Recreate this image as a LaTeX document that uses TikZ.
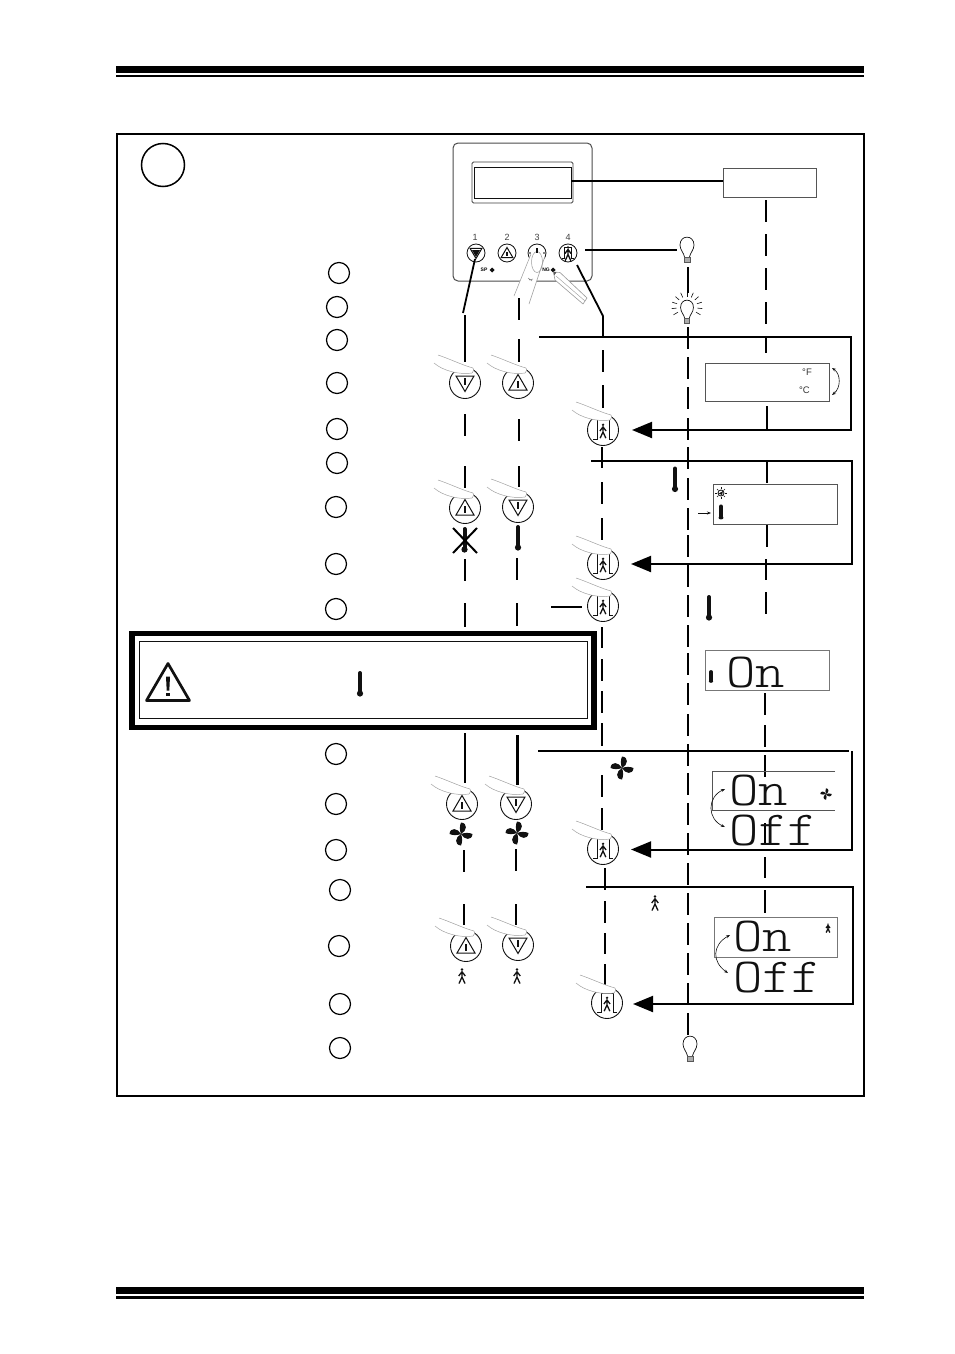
\documentclass[tikz,border=0pt]{standalone}
\usepackage{fontspec}
\usepackage{graphicx}
\setmainfont{Liberation Sans}
\usetikzlibrary{arrows.meta}
\definecolor{ink}{HTML}{111111}
\definecolor{fing}{HTML}{9A9A9A}
\definecolor{boxg}{HTML}{555555}
\tikzset{
  stepnum/.style={draw=black,circle,line width=1.2pt,minimum size=21pt,inner sep=0pt},
  bigstep/.style={draw=black,circle,line width=1.5pt,minimum size=43pt,inner sep=0pt},
  pressbtn/.style={draw=ink,circle,line width=.9pt,minimum size=31pt,inner sep=0pt,fill=white},
  panelbtn/.style={draw=ink,circle,line width=.8pt,minimum size=18pt,inner sep=0pt,fill=white},
  dbox/.style={draw=boxg,line width=.8pt,inner sep=0pt,rectangle},
  dashseg/.style={line width=2pt,black},
  conn/.style={line width=2pt,black},
  thin conn/.style={line width=1.8pt,black},
  tipconn/.style={line width=2pt,black,-{Triangle[length=20pt,width=16pt]}},
  curved/.style={line width=.6pt,ink,{Stealth[length=4pt,width=3pt]}-{Stealth[length=4pt,width=3pt]}},
  paneltxt/.style={font=\fontsize{9}{9}\selectfont,text=ink!80,inner sep=0pt},
  unit/.style={font=\fontsize{9.5}{10}\selectfont,text=ink!85,inner sep=0pt},
  bigt/.style={anchor=base west,inner sep=0pt,text=ink},
  pics/finger/.style={code={
    \fill[white] (-27,-28) .. controls (-15,-24) and (-3,-18) .. (8,-15) .. controls (9,-13) .. (7,-10) .. controls (-5,-8) and (-22,-12) .. (-31,-20) -- cycle;
    \draw[fing,line width=.45pt] (-27,-28) .. controls (-15,-24) and (-3,-18) .. (8,-15) .. controls (9,-13) .. (7,-10) .. controls (-5,-8) and (-22,-12) .. (-31,-20);
  }},
  pics/triup/.style={code={
    \draw[ink,line width=1pt,line join=miter] (0,-8.5)--(-9,7)--(9,7)--cycle;
    \fill[ink] (-.9,-2) rectangle (.9,5);
  }},
  pics/tridown/.style={code={
    \draw[ink,line width=1pt,line join=miter] (0,8.5)--(-9,-7)--(9,-7)--cycle;
    \fill[ink] (-.9,2) rectangle (.9,-5);
  }},
  pics/person/.style={code={
    \fill[ink] (0,-6.5) circle (1.4);
    \draw[ink,line width=1.3pt] (-3.3,0)--(0,-4.3)--(3.3,0) (0,-4.3)--(0,1) (-3,7.5)--(0,1)--(3,7.5);
  }},
  pics/door/.style={code={
    \draw[ink,line width=.8pt] (-10,9)--(-6,9)--(-6,-10) (6,-10)--(6,9)--(10,9);
    \pic[scale=.95] at (0,1) {person};
  }},
  pics/doorclosed/.style={code={
    \draw[ink,line width=.8pt] (-10,9)--(-6,9)--(-6,-10)--(6,-10)--(6,9)--(10,9);
    \pic[scale=.95] at (0,1) {person};
  }},
  pics/thermo/.style={code={
    \draw[ink,line width=4pt,line cap=round] (0,-11)--(0,8);
    \fill[ink] (0,9.5) circle (3.1);
  }},
  pics/fan/.style={code={
    \foreach \a in {0,90,180,270}
      \fill[ink,rotate=\a] (0,0) .. controls (-1.5,-4) and (-1.5,-8) .. (0,-11.5) .. controls (7,-11) and (6,-3) .. (0,0);
  }},
  pics/bulb/.style={code={
    \draw[ink,line width=.7pt] (-2.5,7) .. controls (-3,3) and (-7,0) .. (-7,-5) .. controls (-7,-15.5) and (7,-15.5) .. (7,-5) .. controls (7,0) and (3,3) .. (2.5,7);
    \draw[ink!70,line width=.6pt,fill=ink!35] (-2.8,7) rectangle (2.8,12);
  }},
  pics/rays/.style={code={
    \foreach \a in {-210,-186,...,30}
      \draw[ink,line width=.6pt,shift={(0,-5)}] (\a:10.5) -- (\a:15.5);
  }},
  pics/sun/.style={code={
    \draw[ink,line width=.8pt] (0,0) circle (3);
    \fill[ink] (-2.2,.5) -- (2,-2) -- (1,2) -- cycle;
    \foreach \a in {0,45,...,315} \draw[ink,line width=.6pt] (\a:3.6) -- (\a:5.6);
  }},
  pics/warntri/.style={code={
    \draw[ink,line width=2.7pt,line join=round] (0,-19)--(-21.5,18)--(21.5,18)--cycle;
    \fill[ink] (-2,-6) -- (2,-6) -- (1.3,8) -- (-1.3,8) -- cycle;
    \fill[ink] (-1.7,10) rectangle (1.7,13.5);
  }},
}
\newcommand{\vseg}[5][dashseg]{\coordinate (#2-a) at (#3,#4);\coordinate (#2-b) at (#3,#5);\draw[#1] (#2-a) -- (#2-b);}
\newcommand{\press}[5]{\node[pressbtn] (#1) at (#2,#3) {};\pic at (#1) {#4};\pic at (#1) {finger};}
\newcommand{\bigword}[1]{\scalebox{1.14}[1]{\fontsize{49}{49}\selectfont\ttfamily\fontseries{l}\selectfont #1}}
\begin{document}
\begin{tikzpicture}[x=1pt,y=-1pt]
\useasboundingbox (0,0) rectangle (954,1354);
\fill[white] (0,0) rectangle (954,1354);
% page rules
\fill[black] (116,66) rectangle (864,73);
\fill[black] (116,75) rectangle (864,77);
\fill[black] (116,1287) rectangle (864,1294);
\fill[black] (116,1296) rectangle (864,1299);
% outer frame
\node[draw=black,line width=1.5pt,inner sep=0pt,minimum width=747pt,minimum height=962pt] (frame) at (490.5,615) {};
\node[bigstep] (bignum) at (163,165) {};
% numbered steps
\foreach \n/\x/\y in {a/339/273,b/337/307,c/337/340,d/337/383,e/337/429,f/337/463,g/336/507,h/336/564,i/336/609,j/336/754,k/336/804,l/336/850,m/340/890,n/339/946,o/340/1004,p/340/1048}
  \node[stepnum] (step\n) at (\x,\y) {};
% controller panel
\node[draw=ink!75,line width=1pt,rounded corners=5pt,inner sep=0pt,minimum width=139pt,minimum height=138pt] (panel) at (522.5,212) {};
\node[draw=ink!80,line width=.8pt,rounded corners=1.5pt,inner sep=0pt,minimum width=101pt,minimum height=41pt] (lcdouter) at (522.5,182.5) {};
\node[draw=ink,line width=.9pt,inner sep=0pt,minimum width=97pt,minimum height=31pt] (lcd) at (522.5,182.5) {};
\node[paneltxt] (dig1) at (475,237) {1};
\node[paneltxt] (dig2) at (507,237) {2};
\node[paneltxt] (dig3) at (537,237) {3};
\node[paneltxt] (dig4) at (568,237) {4};
\node[panelbtn] (p1) at (476,253) {};
\node[panelbtn] (p2) at (507,253) {};
\node[panelbtn] (p3) at (537,253) {};
\node[panelbtn] (p4) at (568,253) {};
\pic[scale=.65] at (p1) {tridown};
\fill[ink] (472,250) -- (480,250) -- (476,257) -- cycle;
\pic[scale=.65] at (p2) {triup};
\pic[scale=.6] at (p4) {doorclosed};
\node[font=\bfseries\fontsize{5}{5}\selectfont,inner sep=0pt] (sptxt) at (484,270) {SP};
\fill[ink] (492,267.5) -- (494.5,270) -- (492,272.5) -- (489.5,270) -- cycle;
\node[font=\bfseries\fontsize{5}{5}\selectfont,inner sep=0pt] (ngtxt) at (546,270) {NG};
\fill[ink] (553,267.5) -- (555.5,270) -- (553,272.5) -- (550.5,270) -- cycle;
% finger on button 3
\fill[white] (531,254) -- (514,296) -- (529,304) -- (545,256) .. controls (540,248) and (535,248) .. (531,254);
\draw[fing,line width=.5pt] (531,254) -- (514,296) (545,256) -- (529,304);
\draw[fing,line width=.5pt] (537,262) ellipse (5.5 and 10.5);
\draw[ink!60,line width=.4pt] (528,278) -- (532,281) (529,280) -- (533,279);
\fill[ink] (536,248) rectangle (537.5,253);
\fill[ink] (530,253) circle (.8) (544,253) circle (.8);
% pencil
\draw[fing,fill=white,line width=.6pt] (553.5,272) -- (560,272.5) -- (587,298) -- (583,304) -- (555,280) -- cycle;
\draw[fing,line width=.4pt] (556,276) -- (585,301);
\fill[ink!70] (553.5,272) -- (556.5,272.3) -- (554,275.5) -- cycle;
% top box
\node[dbox,minimum width=93pt,minimum height=29pt] (topbox) at (769.5,182.5) {};
\coordinate (lcdr) at (571,181); \coordinate (topl) at (723,181);
\draw[thin conn] (lcdr) -- (topl);
% bulbs
\coordinate (bulbA) at (687,250);
\pic at (bulbA) {bulb};
\coordinate (bulbB) at (687,312);
\pic[scale=.92] at (bulbB) {bulb};
\pic at (bulbB) {rays};
\coordinate (bulbC) at (690,1049);
\pic at (bulbC) {bulb};
\coordinate (p4r) at (585,250);
\coordinate (bulbAw) at (677,250);
\draw[thin conn] (p4r) -- (bulbAw);
\vseg[thin conn]{bulbline}{688}{267}{293}
% lines from panel buttons
\coordinate (k1) at (463,313);
\coordinate (k4) at (603,316);
\coordinate (p1s) at (475,259);
\coordinate (p4s) at (577,265);
\draw[thin conn] (p1s) -- (k1);
\draw[thin conn] (p4s) -- (k4);
% column 1
\foreach \i/\x/\a/\b in {1/465/315/362,2/465/414/436,3/465/466/488,4/465/559/581,5/465/603/627,6/465/733/783,7/464/850/872,8/464/904/925}
  {\vseg{ca\i}{\x}{\a}{\b}}
% column 2
\foreach \i/\x/\a/\b in {1/519/298/320,2/519/339/362,3/519/419/441,4/519/466/487,5/517/558/580,6/517/603/626,8/516/849/871,9/516/904/925}
  {\vseg{cb\i}{\x}{\a}{\b}}
\vseg[line width=3pt]{cb7}{517}{735}{785}
% column 3
\foreach \i/\x/\a/\b in {1/603/316/337,2/603/350/372,3/603/385/408,4/602/447/468,5/602/482/504,6/602/518/540,7/602/627/648,8/602/659/681,9/602/691/713,10/602/723/746,11/602/775/797,12/602/808/830,13/605/868/890,14/605/901/923,15/605/933/954,16/605/964/987}
  {\vseg{cc\i}{\x}{\a}{\b}}
% column 4
\foreach \a [count=\i, evaluate=\a as \b using int(\a+22)] in {327,357,387,418,447,478,508,535,565,595,625,653,683,714,744,773,803,833,863,893,923,953,983,1013}
  {\vseg{cd\i}{688}{\a}{\b}}
% column 5
\foreach \i/\x/\a/\b in {1/766/200/222,2/766/234/256,3/766/268/290,4/766/302/324,5/766/336/353,6/767/406/429,7/767/462/483,8/767/525/547,9/766/559/580,10/766/592/614,11/765/693/715,12/765/725/747,13/765/755/777,14/765/823/845,15/765/857/878,16/765/890/913}
  {\vseg{ce\i}{\x}{\a}{\b}}
% pressed buttons
\press{b1}{465}{383}{tridown}{}
\press{b2}{518}{383}{triup}{}
\press{b3}{603}{430}{door}{}
\press{b4}{465}{508}{triup}{}
\press{b5}{518}{507}{tridown}{}
\press{b6}{603}{564}{door}{}
\press{b7}{603}{606}{door}{}
\press{b8}{462}{804}{triup}{}
\press{b9}{516}{804}{tridown}{}
\press{b10}{603}{849}{door}{}
\press{b11}{466}{946}{triup}{}
\press{b12}{518}{945}{tridown}{}
\press{b13}{607}{1003}{doorclosed}{}
% thermometers, fans, persons
\coordinate (tX) at (464.5,540);
\pic at (tX) {thermo};
\draw[black,line width=2pt] (453,528) -- (477,553) (477,528) -- (453,553);
\pic at (518,538) {thermo};
\pic at (675,479.5) {thermo};
\pic at (709,608) {thermo};
\pic at (461,834) {fan};
\pic at (517,833) {fan};
\pic at (622,768) {fan};
\pic at (462,976) {person};
\pic at (517,976) {person};
\pic at (655,903) {person};
% arrow groups
\coordinate (h1s) at (539,337); \coordinate (h1c) at (851,337); \coordinate (h1d) at (851,430); \coordinate (h1e) at (632,430);
\draw[tipconn] (h1s) -- (h1c) -- (h1d) -- (h1e);
\coordinate (h2s) at (591,461); \coordinate (h2c) at (852,461); \coordinate (h2d) at (852,564); \coordinate (h2e) at (631,564);
\draw[tipconn] (h2s) -- (h2c) -- (h2d) -- (h2e);
\coordinate (h3s) at (551,607); \coordinate (h3e) at (582,607);
\draw[thin conn] (h3s) -- (h3e);
\coordinate (h4s) at (538,751); \coordinate (h4c) at (849,751);
\draw[line width=2.5pt] (h4s) -- (h4c);
\coordinate (h5a) at (851.5,751); \coordinate (h5b) at (851.5,849.5); \coordinate (h5e) at (631,849.5);
\draw[tipconn] (h5a) -- (h5b) -- (h5e);
\coordinate (h6s) at (586,887); \coordinate (h6c) at (853,887); \coordinate (h6d) at (853,1004); \coordinate (h6e) at (633,1004);
\draw[tipconn] (h6s) -- (h6c) -- (h6d) -- (h6e);
% display A
\node[dbox,minimum width=124pt,minimum height=38pt,fill=white] (dispA) at (767,382) {};
\node[unit] (degF) at (807,372.5) {°F};
\node[unit] (degC) at (804.5,390) {°C};
\coordinate (dAa) at (832,368); \coordinate (dAb) at (832,395);
\draw[curved] (dAa) .. controls (841,374) and (841,388) .. (dAb);
% display B
\node[dbox,minimum width=124pt,minimum height=40pt,fill=white] (dispB) at (775,504) {};
\pic at (721,493) {sun};
\pic[xscale=.8,yscale=.55] at (721,512.5) {thermo};
\coordinate (bArS) at (698,513); \coordinate (bArE) at (711,513);
\draw[line width=.6pt,ink,-{Stealth[length=4pt,width=3pt]}] (bArS) -- (bArE);
% display C
\node[dbox,draw=boxg!80,minimum width=124pt,minimum height=40pt,fill=white] (dispC) at (767.5,670) {};
\pic[xscale=.7,yscale=.45] at (711,677) {thermo};
\node[bigt] (onC) at (726,687) {\bigword{On}};
% display D
\draw[boxg,line width=.8pt] (835,771) -- (712,771) -- (712,810) -- (835,810);
\node[bigt] (onD) at (729,805) {\bigword{On}};
\node[bigt] (offD) at (729,845) {\bigword{Off}};
\pic[scale=.5] at (826,794) {fan};
\coordinate (dDa) at (725,789); \coordinate (dDb) at (725,827);
\draw[curved] (dDa) .. controls (707,797) and (707,819) .. (dDb);
% display E
\node[dbox,draw=boxg!80,minimum width=123pt,minimum height=40pt] (dispE) at (775.5,937) {};
\node[bigt] (onE) at (733,951) {\bigword{On}};
\node[bigt] (offE) at (733,992) {\bigword{Off}};
\pic[scale=.6] at (828,928) {person};
\coordinate (dEa) at (730,935); \coordinate (dEb) at (728,973);
\draw[curved] (dEa) .. controls (712,945) and (712,962) .. (dEb);
% warning box
\node[draw=black,line width=5.5pt,fill=white,inner sep=0pt,minimum width=462pt,minimum height=94pt] (warnouter) at (363,680.5) {};
\node[draw=ink,line width=1pt,inner sep=0pt,minimum width=448pt,minimum height=77pt] (warninner) at (363,680) {};
\pic at (168,682.5) {warntri};
\pic at (360,684) {thermo};
\end{tikzpicture}
\end{document}
